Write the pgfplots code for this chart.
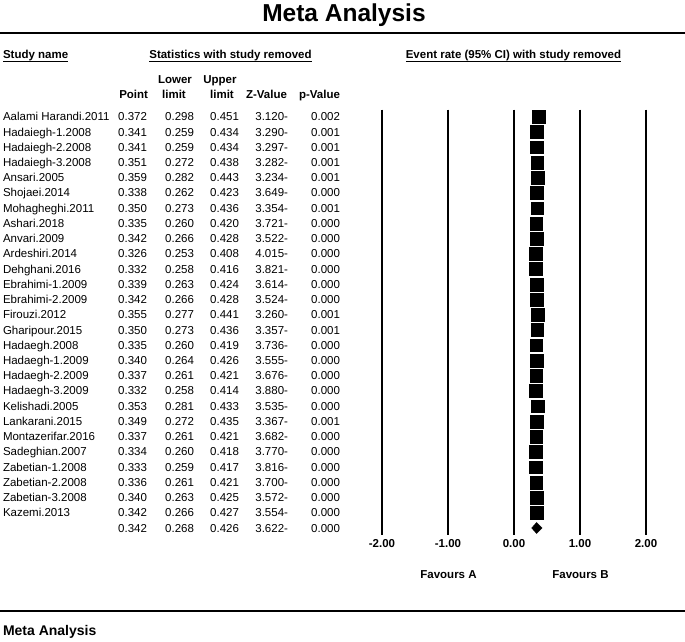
\documentclass[border=0pt]{standalone}
\usepackage{pgfplots}
\usepackage{pgfplotstable}
\pgfplotsset{compat=1.18}
\usepackage{fontspec}
\setmainfont{Liberation Sans}

\pgfplotstableread[col sep=comma]{
row,name,point,lower,upper,z,p
1,Aalami Harandi.2011,0.372,0.298,0.451,3.120-,0.002
2,Hadaiegh-1.2008,0.341,0.259,0.434,3.290-,0.001
3,Hadaiegh-2.2008,0.341,0.259,0.434,3.297-,0.001
4,Hadaiegh-3.2008,0.351,0.272,0.438,3.282-,0.001
5,Ansari.2005,0.359,0.282,0.443,3.234-,0.001
6,Shojaei.2014,0.338,0.262,0.423,3.649-,0.000
7,Mohagheghi.2011,0.350,0.273,0.436,3.354-,0.001
8,Ashari.2018,0.335,0.260,0.420,3.721-,0.000
9,Anvari.2009,0.342,0.266,0.428,3.522-,0.000
10,Ardeshiri.2014,0.326,0.253,0.408,4.015-,0.000
11,Dehghani.2016,0.332,0.258,0.416,3.821-,0.000
12,Ebrahimi-1.2009,0.339,0.263,0.424,3.614-,0.000
13,Ebrahimi-2.2009,0.342,0.266,0.428,3.524-,0.000
14,Firouzi.2012,0.355,0.277,0.441,3.260-,0.001
15,Gharipour.2015,0.350,0.273,0.436,3.357-,0.001
16,Hadaegh.2008,0.335,0.260,0.419,3.736-,0.000
17,Hadaegh-1.2009,0.340,0.264,0.426,3.555-,0.000
18,Hadaegh-2.2009,0.337,0.261,0.421,3.676-,0.000
19,Hadaegh-3.2009,0.332,0.258,0.414,3.880-,0.000
20,Kelishadi.2005,0.353,0.281,0.433,3.535-,0.000
21,Lankarani.2015,0.349,0.272,0.435,3.367-,0.001
22,Montazerifar.2016,0.337,0.261,0.421,3.682-,0.000
23,Sadeghian.2007,0.334,0.260,0.418,3.770-,0.000
24,Zabetian-1.2008,0.333,0.259,0.417,3.816-,0.000
25,Zabetian-2.2008,0.336,0.261,0.421,3.700-,0.000
26,Zabetian-3.2008,0.340,0.263,0.425,3.572-,0.000
27,Kazemi.2013,0.342,0.266,0.427,3.554-,0.000
}\studies

\pgfplotstableread[col sep=comma]{
row,point,lower,upper,z,p
28,0.342,0.268,0.426,3.622-,0.000
}\overall

\newcommand\fs{\fontsize{11.5}{13}\selectfont}

\begin{document}
\begin{tikzpicture}[x=1pt,y=-1pt]
\path[use as bounding box] (0,0) rectangle (685,642);
\tikzset{every node/.style={inner sep=0pt,outer sep=0pt}}

% title and rules
\node[anchor=base] at (344,22) {\fontsize{24.5}{26}\selectfont\bfseries Meta Analysis};
\draw[line width=2.5pt] (0,33) -- (685,33);
\draw[line width=2.5pt] (0,611) -- (685,611);
\node[anchor=base west] at (3,635) {\fontsize{14}{16}\selectfont\bfseries Meta Analysis};

% headers
\node[anchor=base west] (h1) at (3,59) {\fs\bfseries Study name};
\node[anchor=base] (h2) at (230.5,59) {\fs\bfseries Statistics with study removed};
\node[anchor=base] (h3) at (513.5,59) {\fs\bfseries Event rate (95\% CI) with study removed};
\foreach \h in {h1,h2,h3}{
  \draw[line width=0.9pt] ([yshift=-2.8pt]\h.base west) -- ([yshift=-2.8pt]\h.base east);
}
\node[anchor=base] at (175,84) {\fs\bfseries Lower};
\node[anchor=base] at (220,84) {\fs\bfseries Upper};
\node[anchor=base east] at (148,98) {\fs\bfseries Point};
\node[anchor=base] at (174,98) {\fs\bfseries limit};
\node[anchor=base] at (222,98) {\fs\bfseries limit};
\node[anchor=base east] at (287,98) {\fs\bfseries Z-Value};
\node[anchor=base east] at (340,98) {\fs\bfseries p-Value};

% table rows
\foreach \i in {0,...,26}{
  \pgfplotstablegetelem{\i}{name}\of\studies \let\nm\pgfplotsretval
  \pgfplotstablegetelem{\i}{point}\of\studies \let\pt\pgfplotsretval
  \pgfplotstablegetelem{\i}{lower}\of\studies \let\lo\pgfplotsretval
  \pgfplotstablegetelem{\i}{upper}\of\studies \let\up\pgfplotsretval
  \pgfplotstablegetelem{\i}{z}\of\studies \let\zv\pgfplotsretval
  \pgfplotstablegetelem{\i}{p}\of\studies \let\pv\pgfplotsretval
  \pgfmathsetmacro\yy{120.8+\i*15.23}
  \node[anchor=base west] at (3,\yy) {\fs\nm};
  \node[anchor=base east] at (147,\yy) {\fs\pt};
  \node[anchor=base east] at (194,\yy) {\fs\lo};
  \node[anchor=base east] at (239,\yy) {\fs\up};
  \node[anchor=base east] at (288,\yy) {\fs\zv};
  \node[anchor=base east] at (340,\yy) {\fs\pv};
}
\pgfplotstablegetelem{0}{point}\of\overall \let\pt\pgfplotsretval
\pgfplotstablegetelem{0}{lower}\of\overall \let\lo\pgfplotsretval
\pgfplotstablegetelem{0}{upper}\of\overall \let\up\pgfplotsretval
\pgfplotstablegetelem{0}{z}\of\overall \let\zv\pgfplotsretval
\pgfplotstablegetelem{0}{p}\of\overall \let\pv\pgfplotsretval
\pgfmathsetmacro\yy{120.8+27*15.23}
\node[anchor=base east] at (147,\yy) {\fs\pt};
\node[anchor=base east] at (194,\yy) {\fs\lo};
\node[anchor=base east] at (239,\yy) {\fs\up};
\node[anchor=base east] at (288,\yy) {\fs\zv};
\node[anchor=base east] at (340,\yy) {\fs\pv};

% favours labels
\node[anchor=base] at (448.5,578) {\fs\bfseries Favours A};
\node[anchor=base] at (580.5,578) {\fs\bfseries Favours B};

% forest plot
\begin{axis}[
  at={(382pt,-109.5pt)}, anchor=north west,
  scale only axis, width=264pt, height=425.5pt,
  xmin=-2, xmax=2, ymin=0.527, ymax=28.46, y dir=reverse,
  clip=false,
  axis line style={draw=none},
  major tick length=0pt,
  ytick=\empty,
  xtick={-2,-1,0,1,2},
  xticklabels={-2.00,-1.00,0.00,1.00,2.00},
  xticklabel style={font=\fs\bfseries, yshift=-4pt, inner sep=0pt},
  xmajorgrids,
  grid style={black, line width=1.7pt},
]
\addplot[only marks, mark=square*, mark size=6.4pt,
  mark options={fill=black, draw=black, line width=0.3pt},
  error bars/.cd, x dir=both, x explicit,
  error bar style={black, line width=0.8pt}, error mark=none]
  table[x=point, y=row,
        x error plus expr=\thisrow{upper}-\thisrow{point},
        x error minus expr=\thisrow{point}-\thisrow{lower}] {\studies};
\addplot[fill=black, draw=black] coordinates
  {(0.268,28) (0.342,27.64) (0.426,28) (0.342,28.36)} -- cycle;
\end{axis}
\end{tikzpicture}
\end{document}
